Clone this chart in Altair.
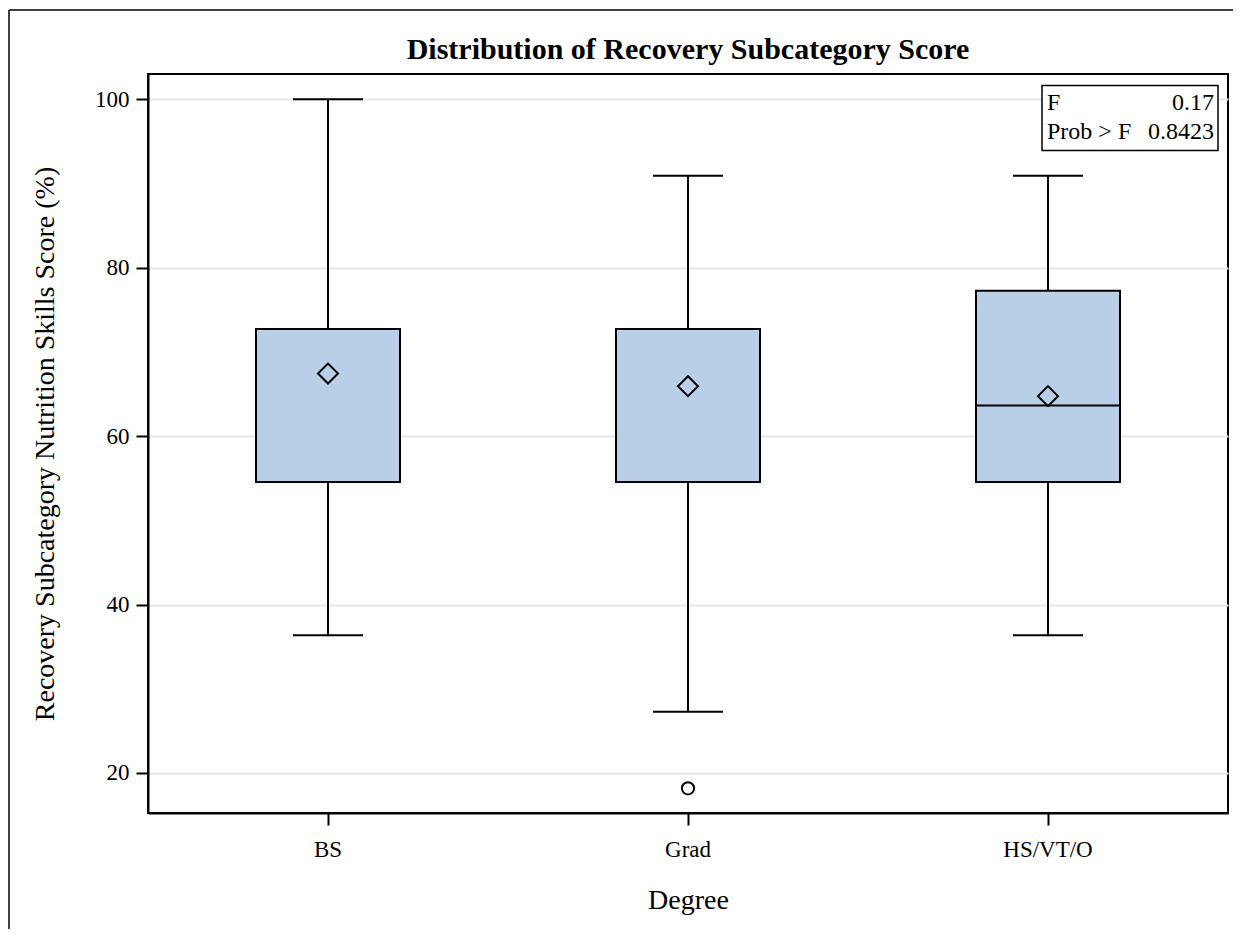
import altair as alt
import pandas as pd

title_text = ["Distribution of Recovery Subcategory Score"]

degrees = ["BS", "Grad", "HS/VT/O"]
mins = [36.36, 27.27, 36.36]
q1s = [54.55, 54.55, 54.55]
medians = [54.55, 54.55, 63.64]
q3s = [72.73, 72.73, 77.27]
maxs = [100.0, 90.91, 90.91]
means = [67.43, 65.93, 64.75]
outlier_degree = ["Grad"]
outlier_values = [18.18]

stat_labels = ["F", "Prob > F"]
stat_values = ["0.17", "0.8423"]

W, H = 1080, 739
FONT = "Liberation Serif"

df = pd.DataFrame({"Degree": degrees, "min": mins, "q1": q1s, "median": medians,
                   "q3": q3s, "max": maxs, "mean": means})
out_df = pd.DataFrame({"Degree": outlier_degree, "value": outlier_values})
stat_df = pd.DataFrame({"label": stat_labels, "val": stat_values, "row": [0, 1]})
title_df = pd.DataFrame({"t": title_text})

xsc = alt.Scale(domain=degrees, paddingInner=0, paddingOuter=0)
ysc = alt.Scale(domain=[15.25, 103.0], nice=False, zero=False)

x = alt.X("Degree:N", scale=xsc, sort=degrees,
          axis=alt.Axis(title="Degree", labelAngle=0, grid=False, tickSize=12,
                        labelPadding=13, titlePadding=25, domainWidth=2, tickWidth=2,
                        domainColor="black", tickColor="black"))
yaxis = alt.Axis(title="Recovery Subcategory Nutrition Skills Score (%)",
                 values=[20, 40, 60, 80, 100], grid=True, gridColor="#E6E6E6",
                 gridWidth=2, tickSize=12, labelPadding=7, titlePadding=35,
                 domainWidth=2, tickWidth=2, domainColor="black", tickColor="black")

base = alt.Chart(df)
y_min = alt.Y("min:Q", scale=ysc, axis=yaxis)

whisk_lo = base.mark_rule(color="black", strokeWidth=2).encode(x=x, y=y_min, y2="q1:Q")
whisk_hi = base.mark_rule(color="black", strokeWidth=2).encode(x=x, y="q3:Q", y2="max:Q")
box = base.mark_bar(size=144, fill="#B9CFE7", stroke="black", strokeWidth=2).encode(
    x=x, y="q1:Q", y2="q3:Q")
cap_lo = base.mark_tick(size=70, thickness=2, color="black", orient="horizontal", opacity=1).encode(
    x=x, y="min:Q")
cap_hi = base.mark_tick(size=70, thickness=2, color="black", orient="horizontal", opacity=1).encode(
    x=x, y="max:Q")
med = base.mark_tick(size=144, thickness=2, color="black", orient="horizontal", opacity=1).encode(
    x=x, y="median:Q")
mean_pt = base.mark_point(shape="diamond", size=400, filled=False, color="black",
                          strokeWidth=2, opacity=1).encode(x=x, y="mean:Q")
outl = alt.Chart(out_df).mark_point(shape="circle", size=150, filled=False, color="black",
                                    strokeWidth=2, opacity=1).encode(
    x=alt.X("Degree:N", scale=xsc, sort=degrees), y="value:Q")

one = alt.Data(values=[{}])
inset_box = alt.Chart(one).mark_rect(fill="white", stroke="black", strokeWidth=1.5).encode(
    x=alt.value(894), x2=alt.value(1070), y=alt.value(11.5), y2=alt.value(76.5))

def stat_text(row, field, align, xpos, ypos):
    return alt.Chart(stat_df).transform_filter(alt.datum.row == row).mark_text(
        align=align, baseline="alphabetic", font=FONT, fontSize=24, color="black"
    ).encode(x=alt.value(xpos), y=alt.value(ypos), text=f"{field}:N")

stats = [
    stat_text(0, "label", "left", 899, 36),
    stat_text(0, "val", "right", 1066, 36),
    stat_text(1, "label", "left", 899, 65),
    stat_text(1, "val", "right", 1066, 65),
]

title = alt.Chart(title_df).mark_text(
    align="center", baseline="alphabetic", font=FONT, fontSize=30, fontWeight="bold",
    color="black").encode(x=alt.value(W / 2), y=alt.value(-15), text="t:N")

border_top = alt.Chart(one).mark_rule(color="black", strokeWidth=1.5).encode(
    x=alt.value(-139), x2=alt.value(W + 20), y=alt.value(-64))
border_left = alt.Chart(one).mark_rule(color="black", strokeWidth=1.5).encode(
    x=alt.value(-139), y=alt.value(-64), y2=alt.value(H + 200))

chart = alt.layer(
    whisk_lo, whisk_hi, box, cap_lo, cap_hi, med, mean_pt, outl,
    inset_box, *stats, title, border_top, border_left
).properties(
    width=W, height=H,
    autosize=alt.AutoSizeParams(type="none"),
    padding={"left": 140, "top": 66, "right": 5, "bottom": 116},
).configure_view(stroke="black", strokeWidth=2).configure_axis(
    labelFont=FONT, titleFont=FONT, labelFontSize=23, titleFontSize=28,
    labelColor="black", titleColor="black", titleFontWeight="normal")

chart.save("out.html", embed_options={"renderer": "svg", "actions": False})
